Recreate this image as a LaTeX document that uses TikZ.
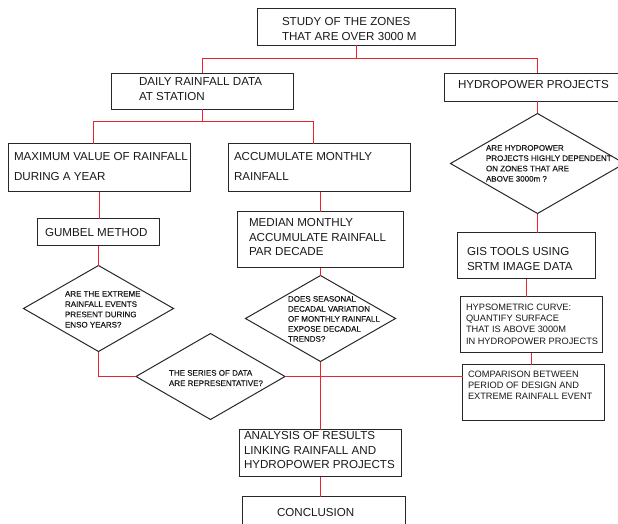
\documentclass[tikz,border=0pt]{standalone}
\usepackage{fontspec}
\setmainfont{Liberation Sans}
\newfontfamily\heavysmall[FakeBold=0.45]{Liberation Sans}
\usetikzlibrary{shapes.geometric}
\definecolor{linkred}{RGB}{232,36,48}
\definecolor{edge}{RGB}{40,40,40}
\definecolor{ink}{RGB}{25,25,25}
\tikzset{
  box/.style={draw=edge, line width=1pt, rectangle, inner sep=0pt, outer sep=0pt},
  query/.style={draw=edge, line width=1pt, diamond, inner sep=0pt, outer sep=0pt},
  link/.style={draw=linkred, line width=1.3pt},
  txt/.style={anchor=north west, inner sep=0pt, outer sep=0pt, align=left, text=ink},
  big/.style={txt, font=\fontsize{11.6}{14.5}\selectfont},
  wide/.style={txt, font=\fontsize{11.6}{20}\selectfont},
  mid/.style={txt, font=\fontsize{9.25}{11.4}\selectfont},
  small/.style={txt, font=\heavysmall\fontsize{8}{10.3}\selectfont},
}
\begin{document}
\begin{tikzpicture}[x=1pt, y=-1pt]
\useasboundingbox (0,0) rectangle (618,524);
\clip (0,0) rectangle (618,524);

% junction points of the branching connectors
\coordinate (j1) at (356.5,58.5);
\coordinate (j2) at (202.5,121.5);
\coordinate (max-in) at (93.5,143.5);
\coordinate (acc-in) at (313.5,143.5);

% boxes
\node[box, minimum width=198, minimum height=37] (study)    at (356.5,27) {};
\node[box, minimum width=182, minimum height=36] (daily)    at (202.5,91.5) {};
\node[box, minimum width=186, minimum height=28] (hydro)    at (537.5,87.5) {};
\node[box, minimum width=182, minimum height=48] (max)      at (99.5,167.5) {};
\node[box, minimum width=182, minimum height=48] (accum)    at (319.5,167.5) {};
\node[box, minimum width=122, minimum height=27] (gumbel)   at (98.5,232) {};
\node[box, minimum width=166, minimum height=56] (median)   at (320.5,239.5) {};
\node[box, minimum width=138, minimum height=46] (gis)      at (526.5,255.5) {};
\node[box, minimum width=142, minimum height=56] (hypso)    at (531.5,324.5) {};
\node[box, minimum width=142, minimum height=56] (comp)     at (533.5,392.5) {};
\node[box, minimum width=162, minimum height=47] (analysis) at (320.5,453) {};
\node[box, minimum width=163, minimum height=44] (concl)    at (324,518.5) {};

% decisions
\node[query, minimum width=174, minimum height=100] (hydroq)  at (537.5,163.5) {};
\node[query, minimum width=150, minimum height=86]  (enso)    at (98.5,308.5) {};
\node[query, minimum width=150, minimum height=86]  (decadal) at (320.5,318.5) {};
\node[query, minimum width=149, minimum height=86]  (series)  at (210.5,376.5) {};

% connectors
\draw[link] (study.south) -- (j1);
\draw[link] (daily.north) |- (j1) -| (hydro.north);
\draw[link] (daily.south) -- (j2);
\draw[link] (max-in) |- (j2) -| (acc-in);
\draw[link] (max.south) -- (max.south |- gumbel.north);
\draw[link] (gumbel.south) -- (enso.north);
\draw[link] (enso.south) |- (series.west);
\draw[link] (series.east) -- (series.east -| comp.west);
\draw[link] (median.north |- accum.south) -- (median.north);
\draw[link] (median.south) -- (decadal.north);
\draw[link] (decadal.south) -- (analysis.north);
\draw[link] (analysis.south) -- (analysis.south |- concl.north);
\draw[link] (hydro.south) -- (hydroq.north);
\draw[link] (hydroq.south) -- (hydroq.south |- gis.north);
\draw[link] (gis.south) -- (gis.south |- hypso.north);
\draw[link] (hypso.south) -- (hypso.south |- comp.north);

% labels
\node[big]  (study-t)    at (282,17.85)  {STUDY OF THE ZONES\\THAT ARE OVER 3000 M};
\node[big, font=\fontsize{11.6}{15}\selectfont] (daily-t) at (139,77.85) {DAILY RAINFALL DATA\\AT STATION};
\node[big]  (hydro-t)    at (458,80.85)  {HYDROPOWER PROJECTS};
\node[wide] (max-t)      at (14,152.85)  {MAXIMUM VALUE OF RAINFALL\\DURING A YEAR};
\node[wide] (accum-t)    at (234,152.85) {ACCUMULATE MONTHLY\\RAINFALL};
\node[big]  (gumbel-t)   at (45,228.85)  {GUMBEL METHOD};
\node[big]  (median-t)   at (249,218.85) {MEDIAN MONTHLY\\ACCUMULATE RAINFALL\\PAR DECADE};
\node[big]  (gis-t)      at (467,247.85) {GIS TOOLS USING\\SRTM IMAGE DATA};
\node[big]  (analysis-t) at (244,431.85) {ANALYSIS OF RESULTS\\LINKING RAINFALL AND\\HYDROPOWER PROJECTS};
\node[big]  (concl-t)    at (277,508.85) {CONCLUSION};
\node[mid]  (hypso-t)    at (466,303.7)  {HYPSOMETRIC CURVE:\\QUANTIFY SURFACE\\THAT IS ABOVE 3000M\\IN HYDROPOWER PROJECTS};
\node[mid]  (comp-t)     at (468,370.7)  {COMPARISON BETWEEN\\PERIOD OF DESIGN AND\\EXTREME RAINFALL EVENT};
\node[small] (hydroq-t)  at (486,145.1)  {ARE HYDROPOWER\\PROJECTS HIGHLY DEPENDENT\\ON ZONES THAT ARE\\ABOVE 3000m ?};
\node[small] (enso-t)    at (65,291.1)   {ARE THE EXTREME\\RAINFALL EVENTS\\PRESENT DURING\\ENSO YEARS?};
\node[small, font=\heavysmall\fontsize{8}{10}\selectfont] (decadal-t) at (288,296.1) {DOES SEASONAL\\DECADAL VARIATION\\OF MONTHLY RAINFALL\\EXPOSE DECADAL\\TRENDS?};
\node[small] (series-t)  at (169,370.1)  {THE SERIES OF DATA\\ARE REPRESENTATIVE?};
\end{tikzpicture}
\end{document}
